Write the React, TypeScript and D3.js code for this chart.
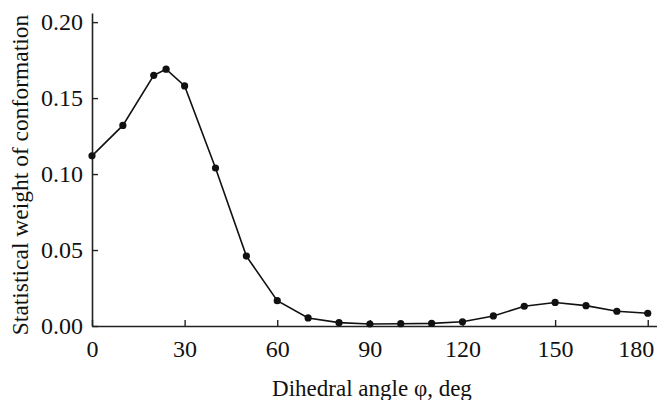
import * as d3 from 'd3';
import { useEffect, useRef } from 'react';

// dihedral angle (deg) and statistical weight
const angles = [0, 10, 20, 24, 30, 40, 50, 60, 70, 80, 90, 100, 110, 120, 130, 140, 150, 160, 170, 180];
const weights = [
  0.112, 0.132, 0.165, 0.169, 0.158, 0.104, 0.046, 0.0167, 0.0053, 0.0022,
  0.0013, 0.0015, 0.0017, 0.0028, 0.0066, 0.013, 0.0155, 0.0134, 0.0097, 0.0084,
];
const xTicks = [0, 30, 60, 90, 120, 150, 180];
const yTicks = [0, 0.05, 0.1, 0.15, 0.2];

export default function App() {
  const chartRef = useRef<SVGSVGElement | null>(null);

  const width = 657;
  const height = 400;
  const margin = { top: 13, bottom: 74, left: 92, right: 0 };
  const font = '"Liberation Serif", "Times New Roman", serif';

  useEffect(() => {
    const svg = d3.select(chartRef.current);
    svg.selectAll('*').remove();

    const x = d3.scaleLinear().domain([0, 183]).range([margin.left, width - margin.right]);
    const y = d3.scaleLinear().domain([0, 0.206]).range([height - margin.bottom, margin.top]);

    // x axis: ticks pointing inward
    const xAxis = d3
      .axisBottom(x)
      .tickValues(xTicks)
      .tickSizeInner(-6)
      .tickSizeOuter(0)
      .tickPadding(14)
      .tickFormat((d) => String(d));
    const gx = svg
      .append('g')
      .attr('transform', `translate(0,${height - margin.bottom})`)
      .call(xAxis);

    const yAxis = d3
      .axisLeft(y)
      .tickValues(yTicks)
      .tickSizeInner(-6)
      .tickSizeOuter(0)
      .tickPadding(9)
      .tickFormat(d3.format('.2f'));
    const gy = svg.append('g').attr('transform', `translate(${margin.left},0)`).call(yAxis);

    [gx, gy].forEach((g) => {
      g.select('.domain').attr('stroke', '#222').attr('stroke-width', 1.6);
      g.selectAll('.tick line').attr('stroke', '#222').attr('stroke-width', 1.4);
      g.selectAll('.tick text')
        .attr('fill', '#111')
        .style('font-family', font)
        .style('font-size', '24px');
    });
    gx.selectAll('.tick text').attr('dy', '0.71em');
    // last label sits inside the frame, like the reference
    gx.selectAll<SVGTextElement, number>('.tick text')
      .filter((d) => d === 180)
      .attr('text-anchor', 'end')
      .attr('x', 6);

    const pts = angles.map((a, i) => [a, weights[i]] as [number, number]);

    const line = d3
      .line<[number, number]>()
      .x((d) => x(d[0]))
      .y((d) => y(d[1]));

    svg
      .append('path')
      .datum(pts)
      .attr('d', line)
      .attr('fill', 'none')
      .attr('stroke', '#111')
      .attr('stroke-width', 1.6);

    svg
      .selectAll('circle.pt')
      .data(pts)
      .enter()
      .append('circle')
      .attr('class', 'pt')
      .attr('cx', (d) => x(d[0]))
      .attr('cy', (d) => y(d[1]))
      .attr('r', 3.6)
      .attr('fill', '#111');

    // axis titles
    svg
      .append('text')
      .text('Dihedral angle φ, deg')
      .attr('x', 372)
      .attr('y', 396)
      .attr('text-anchor', 'middle')
      .attr('fill', '#111')
      .style('font-family', font)
      .style('font-size', '23px');

    svg
      .append('text')
      .text('Statistical weight of conformation')
      .attr('transform', 'translate(28,175) rotate(-90)')
      .attr('text-anchor', 'middle')
      .attr('fill', '#111')
      .style('font-family', font)
      .style('font-size', '23.5px');
  }, []);

  return (
    <svg
      ref={chartRef}
      width={width}
      height={height}
      style={{ position: 'absolute', left: 0, top: 0, background: '#fff' }}
    />
  );
}
